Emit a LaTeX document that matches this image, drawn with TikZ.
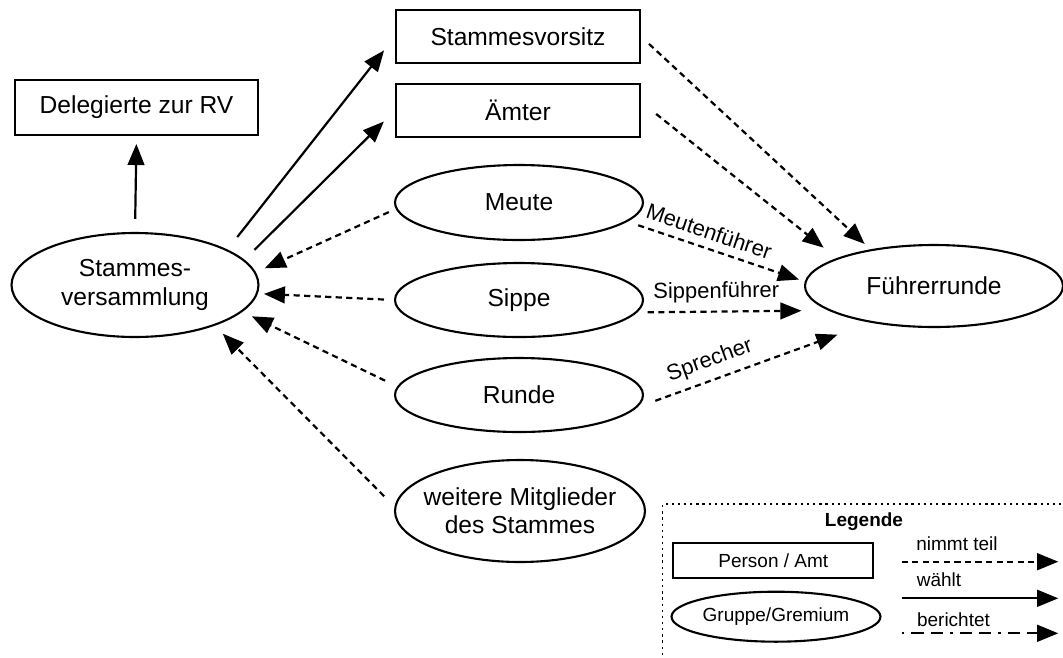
\documentclass[tikz,border=0pt]{standalone}
\usepackage{fontspec}
\setmainfont{Liberation Sans}
\usetikzlibrary{positioning,shapes.geometric,arrows.meta}

\begin{document}
\begin{tikzpicture}[x=0.02cm,y=-0.02cm,
  amt/.style={rectangle,draw,line width=1.2pt,inner sep=0pt,font=\fontsize{14}{16}\selectfont,minimum width=4.88cm,minimum height=1.06cm},
  gremium/.style={ellipse,draw,line width=1.2pt,inner sep=0pt,align=center,font=\fontsize{14}{16}\selectfont,minimum width=4.96cm,minimum height=1.5cm},
  waehlt/.style={-{Triangle[length=12pt,width=9.5pt]},line width=1.25pt},
  teil/.style={waehlt,dash pattern=on 3.5pt off 2.5pt},
  bericht/.style={waehlt,dash pattern=on 1.5pt off 4pt on 7pt off 4pt on 7pt off 4pt},
  lbl/.style={font=\fontsize{12.5}{14}\selectfont,sloped,above=3.5pt,inner sep=1pt},
  leg/.style={font=\fontsize{10.8}{12}\selectfont}]
  \clip (0,0) rectangle (1063,657);
  \node[amt,minimum width=4.86cm,minimum height=1.1cm] (deleg) at (136.5,107.5) {Delegierte zur RV};
  \node[amt] (vorsitz) at (518,36.5) {Stammesvorsitz};
  \node[amt] (aemter) at (518,110.5) {Ämter};
  \node[gremium] (meute) at (519,202.5) {Meute};
  \node[gremium,minimum height=1.48cm] (sippe) at (519,300) {Sippe};
  \node[gremium,minimum height=1.48cm] (runde) at (519,395) {Runde};
  \node[gremium,minimum width=5cm,minimum height=2.04cm,inner xsep=-8pt] (weitere) at (520,511) {weitere Mitglieder\\des Stammes};
  \node[gremium,minimum width=4.94cm,minimum height=2.08cm] (sv) at (135,285) {Stammes-\\versammlung};
  \node[gremium,minimum width=5.16cm,minimum height=1.64cm] (fr) at (934,286) {Führerrunde};
  \draw[waehlt,shorten <=7.4pt,shorten >=4.5pt] (sv.north) -- (deleg.south);
  \draw[waehlt,shorten <=9pt,shorten >=10pt] (sv.21.8) -- (vorsitz.west);
  \draw[waehlt,shorten <=8pt,shorten >=8.9pt] (sv.13) -- (aemter.west);
  \draw[teil,shorten <=4.3pt,shorten >=5.5pt] (meute.183) -- (sv.6.3);
  \draw[teil,shorten <=5.7pt,shorten >=3.4pt] (sippe.west) -- (sv.356.2);
  \draw[teil,shorten <=7.6pt,shorten >=5.9pt] (runde.176.7) -- (sv.346.8);
  \draw[teil,shorten <=8.3pt,shorten >=6.4pt] (weitere.178.3) -- (sv.333.2);
  \draw[teil,shorten <=6.2pt,shorten >=4.5pt] (vorsitz.east) -- (fr.150.6);
  \draw[teil,shorten <=11pt,shorten >=9.5pt] (aemter.4.5) -- (fr.164.9);
  \draw[teil,shorten <=6.4pt,shorten >=3.4pt] (meute.350) -- node[lbl,pos=.43] {Meutenführer} (fr.178.2);
  \draw[teil,shorten <=6pt,shorten >=15.2pt] (sippe.354.7) -- node[lbl,pos=.415] {Sippenführer} (fr.193.7);
  \draw[teil,shorten <=11pt,shorten >=20pt] (runde.354.4) -- node[lbl,pos=.34] {Sprecher} (fr.210.7);
  \node[draw,line width=1pt,dash pattern=on 1.3pt off 2.2pt,minimum width=9cm,minimum height=4cm,anchor=north west] (legende) at (661.7,503.3) {};
  \node[font=\fontsize{10.8}{12}\selectfont\bfseries] (legtitel) at (864,521.7) {Legende};
  \node[amt,leg,minimum width=4cm,minimum height=0.7cm] (legamt) at (773.3,560.8) {Person / Amt};
  \node[gremium,leg,minimum width=4.18cm,minimum height=1cm,inner xsep=-4pt] (leggremium) at (776,616.7) {Gruppe/Gremium};
  \coordinate (teilA) at (901.7,561.7);
  \coordinate (teilB) at (1058.3,561.7);
  \coordinate (waehltA) at (901.7,598.3);
  \coordinate (waehltB) at (1058.3,598.3);
  \coordinate (berichtA) at (901.7,633.3);
  \coordinate (berichtB) at (1058.3,633.3);
  \node[leg] (legteil) at (957,543.3) {nimmt teil};
  \node[leg] (legwaehlt) at (939,580) {wählt};
  \node[leg] (legbericht) at (953.5,620) {berichtet};
  \draw[teil] (teilA) -- (teilB);
  \draw[waehlt] (waehltA) -- (waehltB);
  \draw[bericht] (berichtA) -- (berichtB);
\end{tikzpicture}
\end{document}
